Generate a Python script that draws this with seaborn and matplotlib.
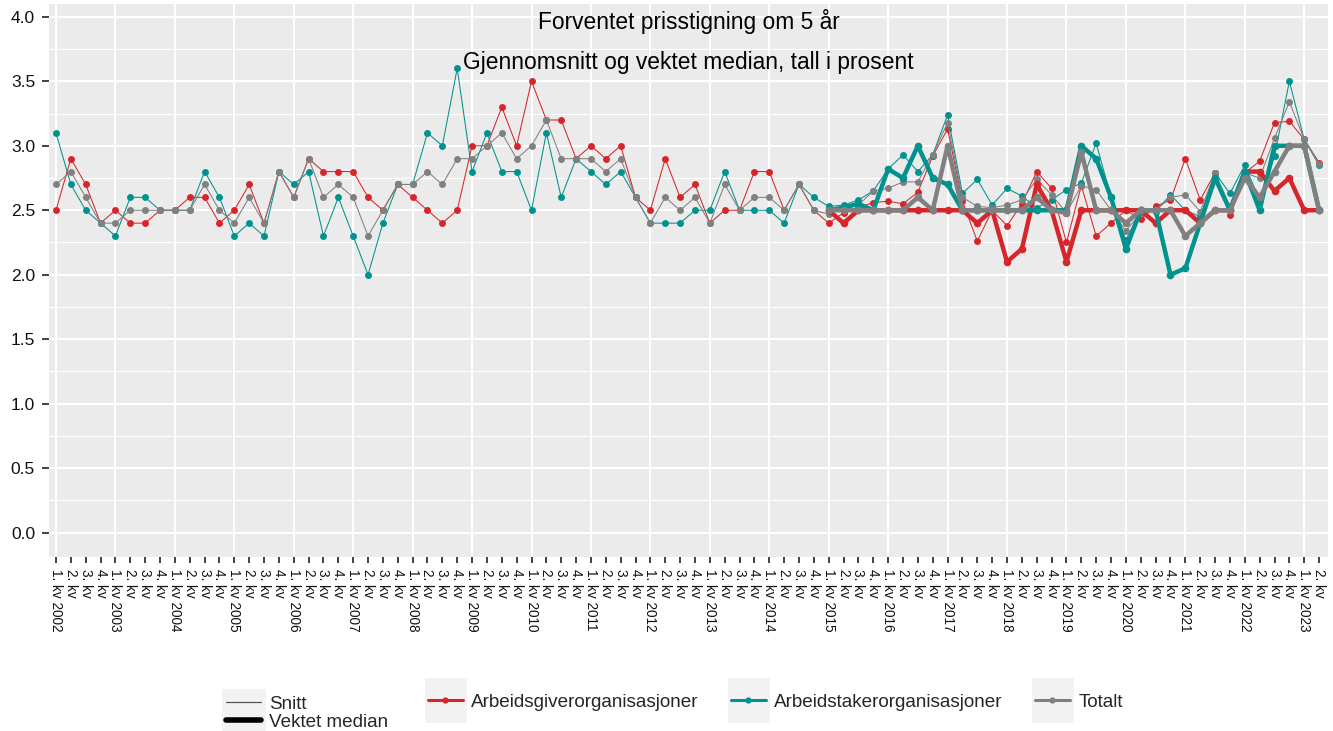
import matplotlib
matplotlib.use("Agg")
import matplotlib.pyplot as plt
from matplotlib.lines import Line2D
from matplotlib.patches import Rectangle
import numpy as np
import pandas as pd
import seaborn as sns

# Kvartaler fra 1. kv 2002 til 2. kv 2023
aar = list(range(2002, 2024))
etiketter = [f"{k}. kv {a}" if k == 1 else f"{k}. kv" for a in aar for k in (1, 2, 3, 4)][:86]

# Snitt (tynne linjer)
snitt_giver = [2.5, 2.9, 2.7, 2.4, 2.5, 2.4, 2.4, 2.5, 2.5, 2.6, 2.6, 2.4, 2.5, 2.7, 2.4, 2.8,
               2.6, 2.9, 2.8, 2.8, 2.8, 2.6, 2.5, 2.7, 2.6, 2.5, 2.4, 2.5, 3.0, 3.0, 3.3, 3.0,
               3.5, 3.2, 3.2, 2.9, 3.0, 2.9, 3.0, 2.6, 2.5, 2.9, 2.6, 2.7, 2.4, 2.5, 2.5, 2.8,
               2.8, 2.5, 2.7, 2.5, 2.40, 2.48, 2.52, 2.56, 2.57, 2.55, 2.64, 2.92, 3.13, 2.57,
               2.26, 2.50, 2.38, 2.55, 2.80, 2.67, 2.25, 2.69, 2.30, 2.40, 2.50, 2.43, 2.53,
               2.58, 2.90, 2.58, 2.79, 2.46, 2.79, 2.88, 3.18, 3.19, 3.05, 2.87]
snitt_taker = [3.1, 2.7, 2.5, 2.4, 2.3, 2.6, 2.6, 2.5, 2.5, 2.5, 2.8, 2.6, 2.3, 2.4, 2.3, 2.8,
               2.7, 2.8, 2.3, 2.6, 2.3, 2.0, 2.4, 2.7, 2.7, 3.1, 3.0, 3.6, 2.8, 3.1, 2.8, 2.8,
               2.5, 3.1, 2.6, 2.9, 2.8, 2.7, 2.8, 2.6, 2.4, 2.4, 2.4, 2.5, 2.5, 2.8, 2.5, 2.5,
               2.5, 2.4, 2.7, 2.6, 2.53, 2.54, 2.58, 2.65, 2.82, 2.93, 2.80, 2.93, 3.24, 2.63,
               2.74, 2.54, 2.67, 2.61, 2.52, 2.58, 2.66, 2.71, 3.02, 2.60, 2.27, 2.50, 2.49,
               2.62, 2.50, 2.45, 2.79, 2.63, 2.85, 2.58, 2.92, 3.50, 3.05, 2.85]
snitt_totalt = [2.7, 2.8, 2.6, 2.4, 2.4, 2.5, 2.5, 2.5, 2.5, 2.5, 2.7, 2.5, 2.4, 2.6, 2.4, 2.8,
                2.6, 2.9, 2.6, 2.7, 2.6, 2.3, 2.5, 2.7, 2.7, 2.8, 2.7, 2.9, 2.9, 3.0, 3.1, 2.9,
                3.0, 3.2, 2.9, 2.9, 2.9, 2.8, 2.9, 2.6, 2.4, 2.6, 2.5, 2.6, 2.4, 2.7, 2.5, 2.6,
                2.6, 2.5, 2.7, 2.5, 2.47, 2.52, 2.54, 2.65, 2.67, 2.72, 2.72, 2.93, 3.18, 2.60,
                2.53, 2.52, 2.54, 2.58, 2.74, 2.62, 2.48, 2.69, 2.66, 2.50, 2.34, 2.48, 2.50,
                2.60, 2.62, 2.49, 2.79, 2.53, 2.79, 2.75, 3.06, 3.34, 3.05, 2.86]

# Vektet median (tykke linjer) fra 1. kv 2015
median_start = 52
median_giver = [2.5, 2.4, 2.5, 2.5, 2.5, 2.5, 2.5, 2.5, 2.5, 2.5, 2.4, 2.5, 2.1, 2.2, 2.7, 2.5,
                2.1, 2.5, 2.5, 2.5, 2.5, 2.5, 2.4, 2.5, 2.5, 2.4, 2.5, 2.5, 2.8, 2.8, 2.65, 2.75,
                2.5, 2.5]
median_taker = [2.5, 2.52, 2.55, 2.5, 2.82, 2.75, 3.0, 2.75, 2.7, 2.5, 2.5, 2.5, 2.5, 2.5, 2.5,
                2.5, 2.5, 3.0, 2.9, 2.6, 2.2, 2.5, 2.5, 2.0, 2.05, 2.4, 2.75, 2.5, 2.8, 2.5, 3.0,
                3.0, 3.0, 2.5]
median_totalt = [2.5, 2.5, 2.5, 2.5, 2.5, 2.5, 2.6, 2.5, 3.0, 2.5, 2.5, 2.5, 2.5, 2.5, 2.6, 2.5,
                 2.48, 2.95, 2.5, 2.5, 2.4, 2.5, 2.5, 2.5, 2.3, 2.4, 2.5, 2.5, 2.75, 2.6, 2.8,
                 3.0, 3.0, 2.5]

grupper = ["Arbeidsgiverorganisasjoner", "Arbeidstakerorganisasjoner", "Totalt"]
farger = {"Arbeidsgiverorganisasjoner": "#D7262B",
          "Arbeidstakerorganisasjoner": "#00928E",
          "Totalt": "#808080"}

nr = np.arange(len(etiketter))
snitt = pd.concat([pd.DataFrame({"nr": nr, "verdi": v, "gruppe": g})
                   for g, v in zip(grupper, [snitt_giver, snitt_taker, snitt_totalt])])
nr_m = np.arange(median_start, median_start + len(median_giver))
median = pd.concat([pd.DataFrame({"nr": nr_m, "verdi": v, "gruppe": g})
                    for g, v in zip(grupper, [median_giver, median_taker, median_totalt])])

sns.set_theme(style="darkgrid")
plt.rcParams['font.family'] = ['Liberation Sans', 'DejaVu Sans']

W, H = 1333, 731
fig = plt.figure(figsize=(W / 100, H / 100), dpi=100)
ax = fig.add_axes([49 / W, 1 - 557 / H, (1328 - 49) / W, (557 - 4) / H])
ax.set_facecolor('#EBEBEB')

sns.lineplot(data=snitt, x="nr", y="verdi", hue="gruppe", palette=farger, errorbar=None,
             marker="o", markersize=5, markeredgewidth=0, linewidth=0.75, legend=False, ax=ax, zorder=3)
sns.lineplot(data=median, x="nr", y="verdi", hue="gruppe", palette=farger, errorbar=None,
             marker="o", markersize=5.5, markeredgewidth=0, linewidth=3.2, legend=False, ax=ax, zorder=4)

ax.set_xlim(-0.47, 85.6)
ax.set_ylim(-0.19, 4.1)

hoved = [i for i in nr if i % 4 == 0]
andre = [i for i in nr if i % 4 != 0]
ax.set_xticks(hoved, labels=[etiketter[i] for i in hoved])
ax.set_xticks(andre, labels=[etiketter[i] for i in andre], minor=True)
ax.tick_params(axis='x', which='both', rotation=-90, length=4.5, width=1.3, color='#333333',
               labelsize=9.8, pad=4, labelcolor='#111111', bottom=True)

yt = np.arange(0, 4.01, 0.5)
ax.set_yticks(yt, labels=[f"{v:.1f}" for v in yt])
ax.set_yticks(np.arange(0.25, 4.0, 0.5), minor=True)
ax.tick_params(axis='y', which='major', length=5, width=1.3, color='#333333',
               labelsize=12.5, pad=5, labelcolor='#111111', left=True)
ax.tick_params(axis='y', which='minor', length=0)

ax.grid(False)
ax.grid(which='major', axis='both', color='white', linewidth=1.5)
ax.grid(which='minor', axis='y', color='white', linewidth=0.8)
for s in ax.spines.values():
    s.set_visible(False)
ax.set_xlabel("")
ax.set_ylabel("")

ax.text(0.5, 1 - 18 / 553, "Forventet prisstigning om 5 år", transform=ax.transAxes,
        ha='center', va='center', fontsize=16.4, color='black', zorder=6)
ax.text(0.5, 1 - 58 / 553, "Gjennomsnitt og vektet median, tall i prosent", transform=ax.transAxes,
        ha='center', va='center', fontsize=16.4, color='black', zorder=6)

# Forklaring
def boks(x0, y0, x1, y1):
    fig.add_artist(Rectangle((x0 / W, 1 - y1 / H), (x1 - x0) / W, (y1 - y0) / H,
                             transform=fig.transFigure, facecolor='#F2F2F2', edgecolor='none'))

def post(handle, tekst, x, y):
    fig.legend([handle], [tekst], loc='center left', bbox_to_anchor=(x / W, 1 - y / H),
               frameon=False, borderpad=0, borderaxespad=0, handlelength=1.85,
               handletextpad=0.45, fontsize=13.6)

boks(222, 689, 266, 731)
post(Line2D([], [], color='#555555', lw=0.9), "Snitt", 226, 704)
post(Line2D([], [], color='black', lw=4), "Vektet median", 226, 722)

for g, x in zip(grupper, [425, 728, 1032]):
    boks(x, 678, x + 42, 723)
    post(Line2D([], [], color=farger[g], lw=2.2, marker='o', markersize=4.5, markeredgewidth=0),
         g, x + 3, 702)

fig.savefig("out.png", dpi=100)
